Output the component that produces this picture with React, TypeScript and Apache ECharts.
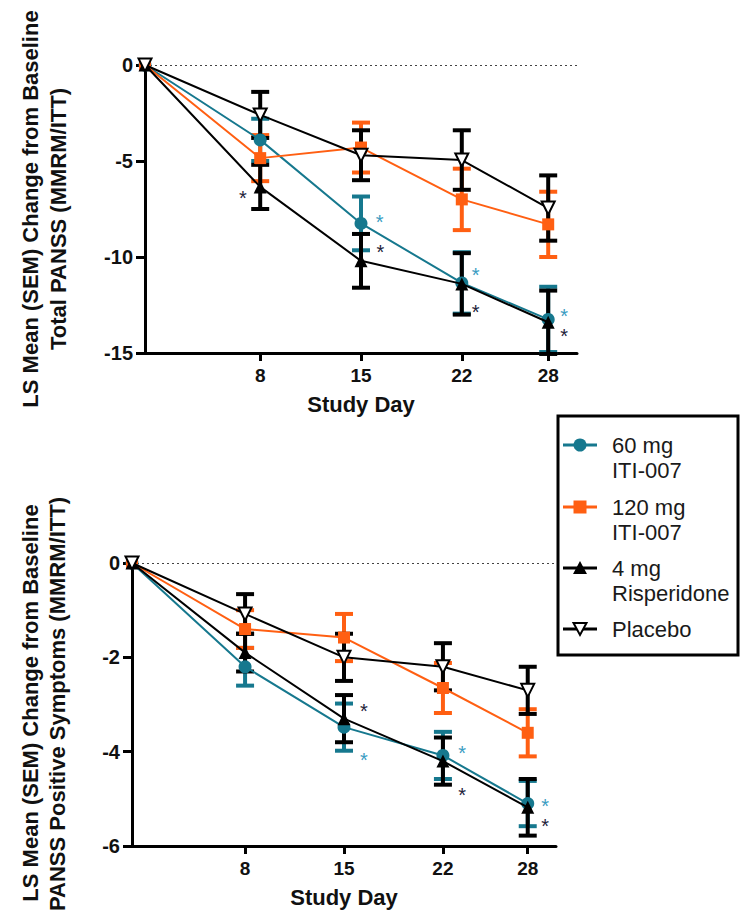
import React, { useEffect, useRef } from "react";
import * as echarts from "echarts";

// ---- data ----
const days = [0, 8, 15, 22, 28];
const tickDays = [8, 15, 22, 28];

// Total PANSS
const total60 = [0, -3.9, -8.25, -11.35, -13.25];
const total60Sem = [0, 1.1, 1.4, 1.6, 1.7];
const total120 = [0, -4.85, -4.3, -7.0, -8.3];
const total120Sem = [0, 1.2, 1.3, 1.6, 1.7];
const totalRisp = [0, -6.35, -10.2, -11.4, -13.4];
const totalRispSem = [0, 1.15, 1.4, 1.6, 1.65];
const totalPlacebo = [0, -2.6, -4.7, -4.95, -7.45];
const totalPlaceboSem = [0, 1.2, 1.3, 1.55, 1.7];

// PANSS Positive
const pos60 = [0, -2.2, -3.48, -4.08, -5.1];
const pos60Sem = [0, 0.4, 0.5, 0.5, 0.48];
const pos120 = [0, -1.4, -1.58, -2.65, -3.6];
const pos120Sem = [0, 0.4, 0.5, 0.53, 0.5];
const posRisp = [0, -1.9, -3.3, -4.2, -5.18];
const posRispSem = [0, 0.4, 0.5, 0.5, 0.6];
const posPlacebo = [0, -1.08, -2.0, -2.2, -2.7];
const posPlaceboSem = [0, 0.42, 0.5, 0.5, 0.5];

// significance asterisks [day, value, group]
const totalStars: [number, number, string][] = [
  [6.8, -6.65, "risp"],
  [16.3, -7.9, "60"],
  [16.35, -9.5, "risp"],
  [22.96, -10.68, "60"],
  [22.96, -12.6, "risp"],
  [29.1, -12.8, "60"],
  [29.1, -13.85, "risp"],
];
const posStars: [number, number, string][] = [
  [16.4, -3.04, "risp"],
  [16.4, -4.07, "60"],
  [23.36, -3.93, "60"],
  [23.36, -4.81, "risp"],
  [29.23, -5.04, "60"],
  [29.23, -5.48, "risp"],
];

const legendNames = ["60 mg\nITI-007", "120 mg\nITI-007", "4 mg\nRisperidone", "Placebo"];

const TEAL = "#16788e";
const ORANGE = "#ff5f12";
const BLACK = "#000000";
const STAR_TEAL = "#3a9cc2";
const STAR_DARK = "#22223a";
const FONT = "'Liberation Sans', Arial, sans-serif";

type Group = {
  key: string;
  means: number[];
  sems: number[];
  color: string;
  symbol: string;
  rotate: number;
  fill: string;
};

function buildSeries(idx: number, groups: Group[], stars: [number, number, string][]) {
  const series: any[] = [];
  groups.forEach((g, gi) => {
    const color = g.color;
    series.push({
      type: "custom",
      xAxisIndex: idx,
      yAxisIndex: idx,
      silent: true,
      clip: false,
      z: 2 + gi,
      encode: { x: 0, y: 1 },
      data: days
        .map((d, i) => [d, g.means[i], g.sems[i]])
        .filter((r) => r[2] > 0),
      renderItem: (params: any, api: any) => {
        const x = api.value(0);
        const m = api.value(1);
        const s = api.value(2);
        const top = api.coord([x, m + s]);
        const bot = api.coord([x, m - s]);
        const hw = 9;
        const st = { stroke: color, lineWidth: 4 };
        return {
          type: "group",
          children: [
            { type: "line", shape: { x1: top[0], y1: top[1], x2: bot[0], y2: bot[1] }, style: st },
            { type: "line", shape: { x1: top[0] - hw, y1: top[1], x2: top[0] + hw, y2: top[1] }, style: st },
            { type: "line", shape: { x1: bot[0] - hw, y1: bot[1], x2: bot[0] + hw, y2: bot[1] }, style: st },
          ],
        };
      },
    });
  });
  groups.forEach((g, gi) => {
    const s: any = {
      type: "line",
      xAxisIndex: idx,
      yAxisIndex: idx,
      silent: true,
      clip: false,
      z: 10 + gi,
      data: days.map((d, i) => [d, g.means[i]]),
      symbol: g.symbol,
      symbolRotate: g.rotate,
      symbolSize: g.symbol === "rect" ? 12 : 13,
      lineStyle: { color: g.color, width: 2 },
      itemStyle: {
        color: g.fill,
        borderColor: g.color,
        borderWidth: g.fill === "#ffffff" ? 2 : 0,
      },
      emphasis: { disabled: true },
    };
    if (gi === 0) {
      s.markLine = {
        silent: true,
        symbol: ["none", "none"],
        label: { show: false },
        lineStyle: { type: [2, 3], color: "#444", width: 1.2 },
        data: [{ yAxis: 0 }],
        z: 1,
      };
    }
    series.push(s);
  });
  series.push({
    type: "custom",
    xAxisIndex: idx,
    yAxisIndex: idx,
    silent: true,
    clip: false,
    z: 20,
    encode: { x: 0, y: 1 },
    data: stars.map((s) => [s[0], s[1], s[2] === "60" ? 1 : 0]),
    renderItem: (params: any, api: any) => {
      const p = api.coord([api.value(0), api.value(1)]);
      const teal = api.value(2) === 1;
      return {
        type: "text",
        x: p[0],
        y: p[1] + 5,
        style: {
          text: "*",
          fill: teal ? STAR_TEAL : STAR_DARK,
          font: `20px ${FONT}`,
          align: "center",
          verticalAlign: "middle",
        },
      };
    },
  });
  return series;
}

function xAxisCfg(idx: number) {
  return {
    type: "value",
    gridIndex: idx,
    min: 0,
    max: 30,
    name: "Study Day",
    nameLocation: "middle",
    nameGap: 40,
    nameTextStyle: { fontFamily: FONT, fontWeight: "bold", fontSize: 22, color: "#111" },
    axisLine: { onZero: false, lineStyle: { color: BLACK, width: 3 } },
    axisTick: { show: true, length: 8, customValues: tickDays, lineStyle: { color: BLACK, width: 3 } },
    axisLabel: {
      customValues: tickDays,
      margin: 13,
      fontFamily: FONT,
      fontWeight: "bold",
      fontSize: 19,
      color: "#111",
    },
    splitLine: { show: false },
  };
}

function yAxisCfg(idx: number, min: number, interval: number) {
  return {
    type: "value",
    gridIndex: idx,
    min,
    max: 0,
    interval,
    axisLine: { show: true, onZero: false, lineStyle: { color: BLACK, width: 3 } },
    axisTick: { show: true, length: 9, lineStyle: { color: BLACK, width: 3 } },
    axisLabel: {
      margin: 12,
      fontFamily: FONT,
      fontWeight: "bold",
      fontSize: 20,
      color: "#111",
    },
    splitLine: { show: false },
  };
}

function legendGraphic() {
  const x0 = 563;
  const x1 = 597;
  const cx = 580;
  const tx = 612;
  const ys = [445, 507, 568, 629];
  const colors = [TEAL, ORANGE, BLACK, BLACK];
  const children: any[] = [
    {
      type: "rect",
      shape: { x: 558, y: 416, width: 180, height: 239 },
      style: { fill: "#ffffff", stroke: BLACK, lineWidth: 3 },
    },
  ];
  ys.forEach((y, i) => {
    children.push({
      type: "line",
      shape: { x1: x0, y1: y, x2: x1, y2: y },
      style: { stroke: colors[i], lineWidth: 3 },
    });
    const lines = legendNames[i].split("\n");
    lines.forEach((t, j) => {
      children.push({
        type: "text",
        x: tx,
        y: y + j * 25.5,
        style: {
          text: t,
          font: `22px ${FONT}`,
          fill: "#1a1a1a",
          align: "left",
          verticalAlign: "middle",
        },
      });
    });
  });
  children.push({ type: "circle", shape: { cx, cy: ys[0], r: 6.5 }, style: { fill: TEAL } });
  children.push({ type: "rect", shape: { x: cx - 6.5, y: ys[1] - 6.5, width: 13, height: 13 }, style: { fill: ORANGE } });
  children.push({
    type: "polygon",
    shape: { points: [[cx, ys[2] - 7], [cx + 7, ys[2] + 6], [cx - 7, ys[2] + 6]] },
    style: { fill: BLACK },
  });
  children.push({
    type: "polygon",
    shape: { points: [[cx - 6.5, ys[3] - 6], [cx + 6.5, ys[3] - 6], [cx, ys[3] + 6]] },
    style: { fill: "#ffffff", stroke: BLACK, lineWidth: 2 },
  });
  return { type: "group", silent: true, z: 50, children };
}

function titleText(x: number, y: number, text: string) {
  return {
    type: "text",
    x,
    y,
    rotation: Math.PI / 2,
    silent: true,
    style: {
      text,
      font: `bold 22px ${FONT}`,
      fill: "#111",
      align: "center",
      verticalAlign: "middle",
    },
  };
}

export default function App() {
  const ref = useRef<HTMLDivElement>(null);
  useEffect(() => {
    if (!ref.current) return;
    const chart = echarts.init(ref.current, null, { renderer: "svg" });
    const totalGroups: Group[] = [
      { key: "60", means: total60, sems: total60Sem, color: TEAL, symbol: "circle", rotate: 0, fill: TEAL },
      { key: "120", means: total120, sems: total120Sem, color: ORANGE, symbol: "rect", rotate: 0, fill: ORANGE },
      { key: "risp", means: totalRisp, sems: totalRispSem, color: BLACK, symbol: "triangle", rotate: 0, fill: BLACK },
      { key: "pl", means: totalPlacebo, sems: totalPlaceboSem, color: BLACK, symbol: "triangle", rotate: 180, fill: "#ffffff" },
    ];
    const posGroups: Group[] = [
      { key: "60", means: pos60, sems: pos60Sem, color: TEAL, symbol: "circle", rotate: 0, fill: TEAL },
      { key: "120", means: pos120, sems: pos120Sem, color: ORANGE, symbol: "rect", rotate: 0, fill: ORANGE },
      { key: "risp", means: posRisp, sems: posRispSem, color: BLACK, symbol: "triangle", rotate: 0, fill: BLACK },
      { key: "pl", means: posPlacebo, sems: posPlaceboSem, color: BLACK, symbol: "triangle", rotate: 180, fill: "#ffffff" },
    ];
    chart.setOption({
      animation: false,
      backgroundColor: "#ffffff",
      textStyle: { fontFamily: FONT },
      grid: [
        { left: 145, top: 65, width: 432, height: 288 },
        { left: 132, top: 563, width: 424, height: 283 },
      ],
      xAxis: [xAxisCfg(0), xAxisCfg(1)],
      yAxis: [yAxisCfg(0, -15, 5), yAxisCfg(1, -6, 2)],
      series: [...buildSeries(0, totalGroups, totalStars), ...buildSeries(1, posGroups, posStars)],
      graphic: [
        titleText(30, 209, "LS Mean (SEM) Change from Baseline"),
        titleText(58, 219, "Total PANSS (MMRM/ITT)"),
        titleText(30, 703, "LS Mean (SEM) Change from Baseline"),
        titleText(57, 704, "PANSS Positive Symptoms (MMRM/ITT)"),
        legendGraphic(),
      ],
    });
    return () => chart.dispose();
  }, []);
  return (
    <div
      ref={ref}
      style={{ position: "fixed", left: 0, top: 0, width: 740, height: 920, background: "#fff" }}
    />
  );
}
